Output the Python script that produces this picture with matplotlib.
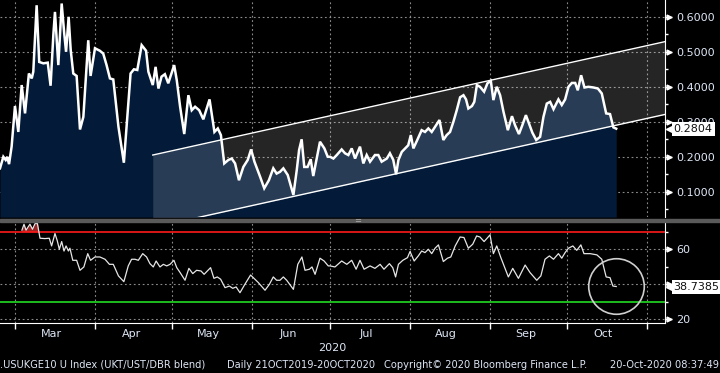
import numpy as np
import pandas as pd
import matplotlib
matplotlib.use("Agg")
import matplotlib.pyplot as plt
from matplotlib.patches import Rectangle

# day offsets from 1 Mar 2020 and readings of the blended 10y spread index
base = pd.Timestamp("2020-03-01")
top_days = [-5.8, -4.5, -3.6, -3.0, -2.3, -1.3, 0.0, 1.3, 2.6, 3.9, 5.4, 6.5, 7.1, 8.4, 9.4,
            11.0, 12.7, 13.8, 14.9, 15.5, 16.8, 18.1, 19.1, 19.8, 20.8, 21.6, 22.6, 23.9,
            25.2, 26.5, 28.4, 29.3, 31.0, 32.9, 34.2, 35.5, 36.8, 38.1, 40.1, 42.2, 43.9,
            44.8, 46.1, 47.4, 49.1, 50.8, 51.7, 53.4, 54.5, 55.6, 56.8, 58.1, 59.4, 61.7,
            62.7, 64.0, 65.6, 67.2, 68.5, 69.8, 71.4, 73.0, 75.4, 77.3, 78.6, 79.8, 81.1,
            82.7, 84.0, 85.3, 86.8, 88.5, 90.2, 91.5, 92.8, 95.0, 96.6, 98.4, 100.1, 101.4,
            102.7, 104.0, 105.7, 107.9, 109.2, 110.1, 111.1, 112.1, 113.4, 114.6, 115.6,
            118.2, 119.9, 121.2, 122.1, 123.4, 124.7, 126.6, 127.9, 129.2, 130.5, 131.8,
            133.7, 135.0, 136.3, 137.6, 139.5, 140.8, 142.1, 144.1, 145.3, 146.6, 147.7,
            148.6, 149.9, 151.2, 152.4, 153.4, 154.4, 155.9, 157.6, 158.9, 160.2, 161.5,
            163.2, 164.5, 166.0, 167.3, 168.6, 169.9, 171.2, 172.5, 173.8, 174.8, 175.7,
            177.1, 178.0, 179.0, 180.2, 181.8, 183.1, 184.4, 185.4, 186.7, 188.0, 189.3,
            191.0, 192.6, 193.8, 195.3, 196.6, 198.0, 199.2, 200.5, 202.0, 203.5, 204.8,
            206.1, 207.4, 208.7, 210.6, 211.9, 213.2, 214.5, 215.8, 217.1, 218.1, 219.4,
            220.7, 222.2, 224.2, 225.9, 227.4, 228.4, 229.1, 230.6, 231.9, 233.0]
top_vals = [.167, .200, .191, .200, .179, .229, .345, .271, .405, .324, .438, .424, .443, .633, .471,
            .467, .469, .403, .552, .614, .462, .638, .552, .500, .600, .505, .438, .431,
            .278, .314, .533, .431, .510, .503, .495, .462, .424, .421, .286, .183, .352,
            .438, .450, .448, .519, .503, .443, .405, .457, .395, .429, .436, .410, .462,
            .419, .343, .265, .376, .333, .343, .333, .307, .364, .271, .281, .262, .181,
            .191, .195, .181, .133, .171, .191, .221, .186, .143, .110, .133, .167, .152,
            .157, .167, .148, .091, .162, .219, .250, .171, .171, .193, .145,
            .243, .224, .200, .200, .195, .205, .221, .210, .205, .224, .195,
            .229, .181, .205, .186, .205, .205, .186, .195, .210, .191, .150,
            .191, .214, .224, .233, .262, .224, .248, .276, .271, .281, .271,
            .290, .305, .248, .262, .271, .300, .333, .370, .376, .364, .338,
            .345, .357, .405, .400, .386, .410, .417, .362, .400, .376, .329,
            .276, .316, .290, .265, .290, .319, .295, .269, .248, .257, .314,
            .352, .357, .336, .364, .348, .364, .400, .411, .411, .390, .433,
            .398, .400, .398, .395, .381, .348, .324, .322, .284, .2804]

# RSI readings
rsi_days = [2.7, 3.5, 4.3, 5.8, 6.8, 7.8, 8.7, 9.7, 11.6, 13.3, 14.2, 15.5, 16.4, 17.2, 18.1,
            19.0, 19.8, 20.7, 21.3, 22.4, 23.9, 25.2, 26.7, 28.2, 29.3, 31.0, 32.9, 34.9,
            36.6, 38.1, 40.1, 42.2, 43.9, 45.2, 46.5, 47.8, 49.5, 51.0, 52.3, 53.6, 54.7,
            56.2, 57.5, 58.8, 60.1, 61.6, 62.7, 64.0, 65.9, 67.4, 68.9, 70.4, 72.1, 73.3,
            75.8, 77.1, 78.4, 79.7, 81.4, 83.1, 84.4, 85.7, 87.2, 89.1, 91.3, 93.0, 94.3,
            96.9, 98.6, 100.1, 101.4, 102.7, 104.0, 105.3, 107.9, 109.6, 111.2, 112.4,
            114.1, 115.1, 116.3, 118.2, 119.8, 121.4, 122.1, 124.0, 126.6, 128.6, 130.5,
            132.2, 133.7, 135.3, 137.6, 139.5, 141.5, 143.0, 145.1, 146.4, 147.5, 148.6,
            150.3, 152.1, 153.1, 154.7, 156.3, 157.6, 158.9, 160.2, 161.5, 162.8, 164.1,
            166.0, 167.6, 168.9, 170.6, 172.5, 174.0, 175.7, 177.4, 178.9, 180.2, 181.8,
            184.1, 185.4, 186.7, 188.2, 189.3, 191.2, 192.9, 195.1, 197.7, 199.6, 202.2,
            203.8, 205.4, 207.1, 208.7, 210.6, 211.9, 213.2, 214.5, 216.2, 217.7, 219.3,
            220.5, 222.9, 225.5, 227.4, 229.1, 230.6, 231.7, 233.0]
rsi_vals = [70.9, 74.3, 70.9, 74.3, 71.4, 74.7, 74.7, 66.3, 66.1, 66.3, 61.9, 69.0, 64.8, 60.0, 64.4,
            59.0, 61.9, 59.0, 60.6, 53.7, 53.7, 48.0, 49.9, 57.5, 53.7, 55.6, 55.6, 54.3,
            51.4, 51.4, 44.8, 41.5, 50.5, 54.3, 54.3, 53.7, 57.5, 55.6, 51.8, 49.9, 53.3,
            49.9, 51.4, 50.5, 51.4, 53.7, 49.5, 46.7, 42.3, 49.1, 46.1, 48.0, 47.6, 45.7,
            49.5, 43.4, 44.2, 42.9, 38.1, 39.0, 37.7, 38.5, 35.2, 40.0, 45.3, 42.9, 41.0,
            36.6, 40.0, 44.2, 42.3, 42.3, 44.2, 42.3, 37.1, 51.4, 55.6, 48.0,
            48.6, 49.9, 45.7, 54.9, 53.3, 50.5, 50.5, 49.9, 53.3, 51.4, 53.7,
            48.6, 53.7, 48.6, 50.5, 49.1, 51.4, 48.6, 51.8, 49.5, 44.2, 51.4,
            53.7, 55.2, 58.7, 53.3, 56.2, 59.0, 58.1, 60.0, 57.5, 60.6, 62.5,
            53.0, 54.9, 55.6, 61.9, 67.0, 66.7, 60.6, 62.9, 67.6, 67.0, 64.4,
            68.2, 57.5, 61.9, 55.6, 51.4, 44.2, 49.1, 43.4, 51.0, 46.7, 42.3,
            44.8, 54.3, 56.2, 54.3, 57.5, 54.9, 58.1, 60.6, 61.9, 59.4, 62.5,
            57.5, 57.5, 56.8, 54.3, 44.2, 43.8, 39.0, 38.7385]

# trend channel drawn on the chart
chan_days = [53.4, 251.9]
chan_upper = [0.205, 0.529]
chan_lower = [-0.002, 0.321]

top_ticks = [0.1, 0.2, 0.3, 0.4, 0.5, 0.6]
rsi_ticks = [20, 40, 60]
rsi_labels = ["20", "", "60"]   # 40 sits under the last-value tag
rsi_hi, rsi_lo = 70, 30

def to_dates(days):
    return base + pd.to_timedelta(np.array(days), unit="D")

t_top = to_dates(top_days)
t_rsi = to_dates(rsi_days)
t_chan = to_dates(chan_days)
xmin, xmax = to_dates([-5.8, 251.9])

LBL = "#dde6f5"
GRID = dict(color="#8a8a8a", lw=0.8, ls=(0, (1.6, 2.4)))
plt.rcParams["font.family"] = ["DejaVu Sans"]

fig = plt.figure(figsize=(7.2, 3.73), dpi=100, facecolor="black")
ax = fig.add_axes([0, 0.418, 0.9236, 0.582], facecolor="black")
ax2 = fig.add_axes([0, 0.134, 0.9236, 0.271], facecolor="black")

months = pd.date_range("2020-03-01", "2020-11-01", freq="MS")
mids = months[:-1] + pd.Timedelta(days=14)

def style(a, ticks, labels, minors):
    a.set_xlim(xmin, xmax)
    a.yaxis.tick_right()
    a.set_yticks(ticks)
    a.set_yticks(minors, minor=True)
    a.set_yticklabels(labels, color=LBL, fontsize=8)
    a.tick_params(axis="y", which="major", length=5, width=1, color="white", pad=3)
    a.tick_params(axis="y", which="minor", length=2.5, width=1, color="white")
    for s in a.spines.values():
        s.set_visible(False)
    a.spines["right"].set_visible(True)
    a.spines["right"].set_color("white")
    for v in ticks:
        a.axhline(v, **GRID, zorder=1)
    for m in months:
        a.axvline(m, **GRID, zorder=1)
    a.plot([1.006] * len(ticks), ticks, ">", color="white", ms=3.5,
           transform=a.get_yaxis_transform(), clip_on=False)

# top panel
ylo, yhi = 0.0277, 0.648
ax.set_ylim(ylo, yhi)
style(ax, top_ticks, [f"{v:.4f}" for v in top_ticks], np.arange(0.05, 0.65, 0.1))
ax.fill_between(t_top, top_vals, ylo, color="#031b38", lw=0, zorder=2)
ax.fill_between(t_chan, chan_lower, chan_upper, color="white", alpha=0.15, lw=0, zorder=3)
ax.plot(t_chan, chan_upper, color="white", lw=1, zorder=4)
ax.plot(t_chan, chan_lower, color="white", lw=1, zorder=4)
ax.plot(t_top, top_vals, color="white", lw=1.8, zorder=5, solid_joinstyle="miter")
ax.set_xticks([])

# bottom panel
ax2.set_ylim(17.9, 75.6)
style(ax2, rsi_ticks, rsi_labels, [30, 50, 70])
rsi = np.array(rsi_vals)
ax2.fill_between(t_rsi, rsi, rsi_hi, where=rsi > rsi_hi, interpolate=True,
                 color="#9a2424", lw=0, zorder=2)
ax2.axhline(rsi_hi, color="#ff1a1a", lw=1.2, zorder=3)
ax2.axhline(rsi_lo, color="#22dd22", lw=1.2, zorder=3)
ax2.plot(t_rsi, rsi, color="#e6e6e6", lw=0.9, zorder=4)
ax2.plot([t_rsi[-1]], [39.3], "o", ms=40, mfc="none", mec="#cfcfcf", mew=1.2, zorder=5)
ax2.spines["bottom"].set_visible(True)
ax2.spines["bottom"].set_color("white")
ax2.set_xticks(months)
ax2.set_xticks(mids, minor=True)
ax2.set_xticklabels([])
ax2.set_xticklabels([m.strftime("%b") for m in mids], minor=True, color=LBL, fontsize=8)
ax2.tick_params(axis="x", which="major", length=4, width=1, color="white")
ax2.tick_params(axis="x", which="minor", length=0, pad=4)

# last-value tags
for a, val, txt in [(ax, top_vals[-1], "0.2804"), (ax2, rsi_vals[-1], "38.7385")]:
    tr = a.get_yaxis_transform()
    a.plot([1.009], [val], "<", color="white", ms=7, transform=tr, clip_on=False, zorder=6)
    a.text(1.013, val, txt, transform=tr, ha="left", va="center", fontsize=8,
           color="#111111", clip_on=False, zorder=7,
           bbox=dict(boxstyle="square,pad=0.18", fc="white", ec="none"))

# separator between panels
fig.patches.append(Rectangle((0, 0.4048), 1, 0.009, transform=fig.transFigure,
                             color="#5a5a5a", zorder=0))
fig.text(0.496, 0.4095, "=", color="#b0b0b0", fontsize=6, ha="center", va="center")

fig.text(0.461, 0.067, "2020", color=LBL, fontsize=8, ha="center", va="center")
fy = 0.022
fig.text(0.0, fy, ".USUKGE10 U Index (UKT/UST/DBR blend)", color=LBL, fontsize=7.1, va="center")
fig.text(0.315, fy, "Daily 21OCT2019-20OCT2020", color=LBL, fontsize=7.1, va="center")
fig.text(0.534, fy, "Copyright\u00a9 2020 Bloomberg Finance L.P.", color=LBL, fontsize=7.1, va="center")
fig.text(0.999, fy, "20-Oct-2020 08:37:49", color=LBL, fontsize=7.1, va="center", ha="right")

fig.savefig("out.png", dpi=100, facecolor="black")
